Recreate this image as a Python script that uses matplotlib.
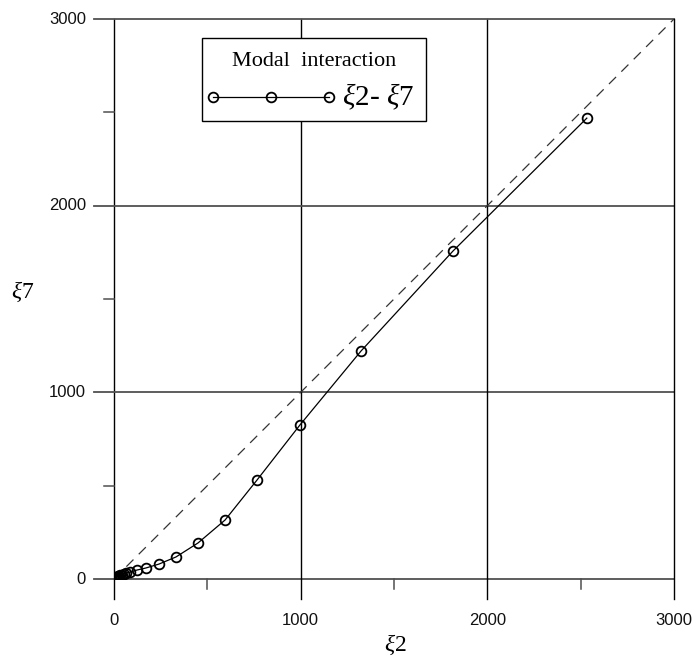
import matplotlib
matplotlib.use("Agg")
import matplotlib.pyplot as plt
from matplotlib.patches import Rectangle
from matplotlib.lines import Line2D

plt.rcParams["mathtext.fontset"] = "custom"
plt.rcParams["mathtext.it"] = "Liberation Serif:italic"
plt.rcParams["mathtext.rm"] = "Liberation Serif"

# values
xi2 = [0, 1, 2, 4, 6, 9, 12, 16, 21, 27, 34, 42, 52, 64, 86, 123, 171,
       241, 332, 450, 595, 766, 996, 1323, 1816, 2533]
xi7 = [0, 1, 2, 3, 5, 7, 9, 11, 14, 17, 20, 24, 28, 32, 37, 48, 59,
       80, 118, 193, 316, 530, 825, 1221, 1757, 2469]
major_ticks = [0, 1000, 2000, 3000]
minor_ticks = [500, 1500, 2500]
legend_title = "Modal  interaction"
series_label = r"$\xi$2- $\xi$7"
x_label = r"$\xi$2"
y_label = r"$\xi$7"

W, H = 697, 665
fig = plt.figure(figsize=(W / 100, H / 100), dpi=100)

# axes box in pixels: x 0..3000 -> 114..674, y 0..3000 -> 579..19
x0, x1, ytop, ybot = 114, 674, 19, 579
ax = fig.add_axes([x0 / W, (H - ybot) / H, (x1 - x0) / W, (ybot - ytop) / H])
ax.set_xlim(0, 3000)
ax.set_ylim(0, 3000)
for s in ax.spines.values():
    s.set_visible(False)
ax.set_xticks([])
ax.set_yticks([])

ext = 20 * 3000 / 560   # major tick length in data units
mext = 10 * 3000 / 560  # minor tick length

# grid / axis lines with the tick overhang
for v in major_ticks:
    ax.plot([-ext, 3000], [v, v], color="#505050", lw=1.3, clip_on=False, zorder=1)
    ax.plot([v, v], [-ext, 3000], color="black", lw=1.0, clip_on=False, zorder=1)
for v in minor_ticks:
    ax.plot([-mext, 0], [v, v], color="#505050", lw=1.1, clip_on=False)
    ax.plot([v, v], [-mext, 0], color="#505050", lw=1.1, clip_on=False)

tick_font = dict(family="Liberation Sans", fontsize=12, color="#111111")
for v in major_ticks:
    ax.text(v, -222, str(v), ha="center", va="center", **tick_font)
    ax.text(-150, v, str(v), ha="right", va="center", **tick_font)

# diagonal reference
ax.plot([0, 3000], [0, 3000], color="#333333", lw=0.9, dashes=(8, 6), zorder=2)

# data
ax.plot(xi2, xi7, color="black", lw=0.9, marker="o", markersize=7,
        markerfacecolor="none", markeredgecolor="black", markeredgewidth=1.3,
        zorder=3)

serif = "Liberation Serif"
fig.text(395 / W, 1 - 645 / H, x_label, family=serif, fontsize=17,
         ha="center", va="center")
fig.text(23 / W, 1 - 292 / H, y_label, family=serif, fontsize=17,
         ha="center", va="center")

# legend box
bx0, by0, bx1, by1 = 202, 38, 426, 121
fig.add_artist(Rectangle((bx0 / W, 1 - by1 / H), (bx1 - bx0) / W, (by1 - by0) / H,
                         transform=fig.transFigure, facecolor="white",
                         edgecolor="black", lw=1.0, zorder=5))
fig.text(314 / W, 1 - 62 / H, legend_title, family=serif, fontsize=16,
         ha="center", va="center", zorder=6)
ly = 1 - 97 / H
fig.add_artist(Line2D([213 / W, 271 / W, 329 / W], [ly, ly, ly],
                      transform=fig.transFigure, color="black", lw=0.9,
                      marker="o", markersize=7, markerfacecolor="none",
                      markeredgewidth=1.3, zorder=6))
fig.text(342 / W, ly, series_label, family=serif, fontsize=21,
         ha="left", va="center", zorder=6)

fig.savefig("out.png", dpi=100)
